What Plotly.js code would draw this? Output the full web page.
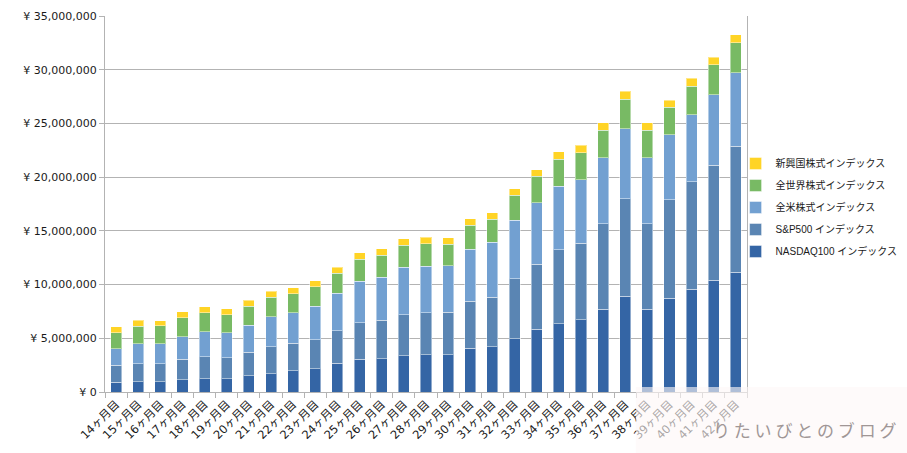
<!DOCTYPE html>
<html>
<head>
<meta charset="utf-8">
<script src="https://cdn.plot.ly/plotly-3.0.1.min.js"></script>
<style>html,body{margin:0;padding:0;background:#fff;}#chart{width:907px;height:453px;}</style>
</head>
<body>
<div id="chart"></div>
<script>
const categories = ["14ヶ月目","15ヶ月目","16ヶ月目","17ヶ月目","18ヶ月目","19ヶ月目","20ヶ月目","21ヶ月目","22ヶ月目","23ヶ月目","24ヶ月目","25ヶ月目","26ヶ月目","27ヶ月目","28ヶ月目","29ヶ月目","30ヶ月目","31ヶ月目","32ヶ月目","33ヶ月目","34ヶ月目","35ヶ月目","36ヶ月目","37ヶ月目","38ヶ月目","39ヶ月目","40ヶ月目","41ヶ月目","42ヶ月目"];

const nasdaq100 = [900000,960000,960000,1120000,1240000,1240000,1520000,1680000,1990000,2170000,2670000,3050000,3110000,3390000,3480000,3480000,4070000,4230000,4940000,5850000,6370000,6740000,7710000,8920000,7710000,8710000,9580000,10380000,11170000];
const sp500 = [1590000,1680000,1680000,1930000,2060000,1960000,2180000,2550000,2550000,2710000,3050000,3390000,3580000,3820000,3890000,3950000,4390000,4600000,5600000,6060000,6850000,7100000,7930000,9050000,7930000,9170000,9980000,10730000,11710000];
const usTotal = [1550000,1870000,1870000,2080000,2330000,2330000,2520000,2790000,2830000,3110000,3450000,3880000,4010000,4390000,4350000,4320000,4850000,5100000,5440000,5720000,5930000,5940000,6160000,6530000,6160000,6060000,6250000,6570000,6850000];
const allWorld = [1490000,1620000,1650000,1770000,1770000,1680000,1770000,1810000,1770000,1800000,1870000,2020000,2020000,2050000,2090000,1990000,2210000,2150000,2330000,2460000,2520000,2510000,2580000,2770000,2580000,2580000,2670000,2760000,2800000];
const emerging = [560000,560000,490000,560000,530000,530000,560000,560000,560000,560000,590000,600000,620000,620000,580000,630000,590000,620000,600000,620000,690000,660000,680000,740000,680000,660000,720000,720000,710000];

const seriesNames = ["NASDAQ100 インデックス","S&P500 インデックス","全米株式インデックス","全世界株式インデックス","新興国株式インデックス"];
const seriesValues = [nasdaq100, sp500, usTotal, allWorld, emerging];
const seriesColors = ["#3465a5","#5a85b3","#72a0d1","#78ba64","#ffd426"];

const traces = seriesValues.map((vals, k) => ({
  type: "bar",
  name: seriesNames[k],
  x: categories,
  y: vals,
  legendgroup: "g" + k,
  legendrank: 100 - k,
  marker: {color: seriesColors[k], line: {color: "rgba(255,255,255,0.45)", width: 1}},
  hoverinfo: "x+y+name"
}));

const layout = {
  width: 907, height: 453,
  margin: {l: 105, r: 160, t: 16, b: 61, pad: 0, autoexpand: false},
  paper_bgcolor: "#ffffff",
  plot_bgcolor: "#ffffff",
  barmode: "stack",
  bargap: 0.5,
  font: {family: "DejaVu Sans, Noto Sans CJK JP, sans-serif", size: 11, color: "#1a1a1a"},
  xaxis: {
    type: "category",
    tickangle: -45,
    tickson: "boundaries",
    ticks: "outside", ticklen: 5, tickcolor: "#b3b3b3",
    showline: true, linecolor: "#b3b3b3", linewidth: 1,
    showgrid: false,
    automargin: false,
    tickfont: {size: 11.5}
  },
  yaxis: {
    range: [0, 35000000],
    dtick: 5000000,
    tickprefix: "¥ ",
    tickformat: ",d",
    ticks: "outside", ticklen: 5, tickcolor: "#b3b3b3",
    showline: true, linecolor: "#b3b3b3", linewidth: 1, mirror: true,
    showgrid: true, gridcolor: "#b3b3b3", gridwidth: 1,
    zeroline: false,
    automargin: false,
    tickfont: {size: 11}
  },
  legend: {
    xref: "container", yref: "container",
    x: 0.811, xanchor: "left",
    y: 0.542, yanchor: "middle",
    traceorder: "grouped",
    tracegroupgap: 3,
    font: {family: "Liberation Sans, Noto Sans CJK JP, sans-serif", size: 10},
    bgcolor: "rgba(0,0,0,0)"
  },
  shapes: [{
    type: "rect", xref: "paper", yref: "paper", layer: "above",
    x0: 0.827, x1: 1.25, y0: -0.165, y1: 0.0133,
    fillcolor: "rgba(253,247,247,0.62)", line: {width: 0}
  }],
  annotations: [{
    xref: "paper", yref: "paper",
    x: 1.235, y: -0.1,
    xanchor: "right", yanchor: "middle",
    text: "り た い び と の ブ ロ グ",
    showarrow: false,
    font: {family: "Noto Sans CJK JP, sans-serif", size: 17, color: "#a09696"}
  }]
};

Plotly.newPlot("chart", traces, layout, {displayModeBar: false, staticPlot: true});
</script>
</body>
</html>
